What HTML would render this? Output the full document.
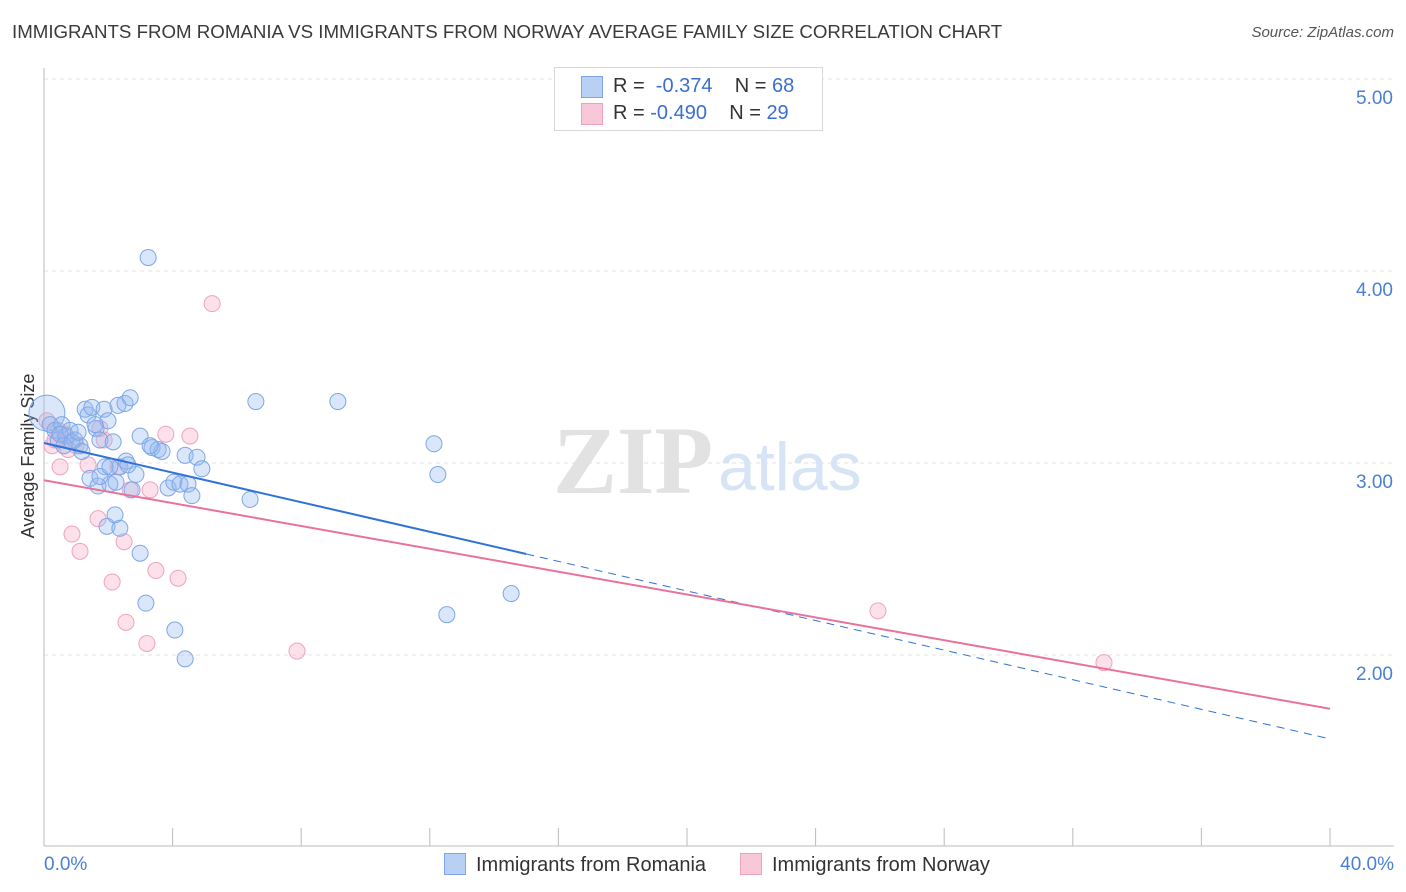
<!DOCTYPE html>
<html><head><meta charset="utf-8"><style>
body{margin:0;background:#fff;font-family:"Liberation Sans",sans-serif;}
#wrap{position:relative;width:1406px;height:892px;overflow:hidden;}
.t{position:absolute;white-space:nowrap;}
</style></head><body>
<div id="wrap">
<div class="t" style="left:12px;top:21px;font-size:18.7px;color:#3a3a3a;">IMMIGRANTS FROM ROMANIA VS IMMIGRANTS FROM NORWAY AVERAGE FAMILY SIZE CORRELATION CHART</div>
<div class="t" style="right:12px;top:24px;font-size:15px;color:#555;font-style:italic;">Source: ZipAtlas.com</div>
<svg id="svg" width="1406" height="892" style="position:absolute;left:0;top:0"></svg>
</div>
<script>
const xTicks=[0,4,8,12,16,20,24,28,32,36,40];
const yTicks=[2,3,4,5];
const blueX=[0.09,0.19,0.34,0.44,0.56,0.68,0.81,0.96,1.12,1.28,1.37,1.49,1.62,1.74,1.87,1.99,2.15,2.30,2.52,2.68,2.99,3.24,3.36,3.55,3.67,3.86,4.04,4.23,4.39,4.48,4.60,4.76,4.91,6.41,6.59,9.14,12.13,12.25,12.53,14.53,1.90,2.05,2.24,2.36,2.55,2.74,2.86,1.43,1.68,1.74,1.96,2.21,2.36,2.99,3.17,4.07,4.39,0.50,0.62,0.87,1.06,1.18,1.59,2.05,2.61,3.30];
const blueY=[3.26,3.20,3.17,3.12,3.20,3.14,3.17,3.12,3.09,3.28,3.25,3.29,3.18,3.12,3.28,3.22,3.11,3.30,3.31,3.34,3.14,4.07,3.08,3.07,3.06,2.87,2.90,2.89,3.04,2.89,2.83,3.03,2.97,2.81,3.32,3.32,3.10,2.94,2.21,2.32,2.98,2.89,2.90,2.98,3.01,2.86,2.94,2.92,2.88,2.93,2.67,2.73,2.66,2.53,2.27,2.13,1.98,3.15,3.09,3.11,3.16,3.06,3.20,2.98,2.99,3.09];
const pinkX=[0.09,0.25,0.44,0.50,0.75,0.87,1.12,1.37,1.68,1.87,2.12,2.30,2.49,2.55,2.68,3.20,3.30,3.48,3.79,4.17,4.54,5.23,7.87,25.94,32.97,0.34,0.65,1.00,1.74];
const pinkY=[3.22,3.09,3.17,2.98,3.07,2.63,2.54,2.99,2.71,3.12,2.38,2.98,2.59,2.17,2.86,2.06,2.86,2.44,3.15,2.40,3.14,3.83,2.02,2.23,1.96,3.12,3.15,3.09,3.18];
const blueLine=[3.104,1.563];
const pinkLine=[2.91,1.72];
const blueSolidEnd=15.0;
const X=v=>44+v*32.15, Y=v=>847-(v-1)*192;
const NS="http://www.w3.org/2000/svg", svg=document.getElementById('svg');
function el(tag,attrs,parent){const e=document.createElementNS(NS,tag);for(const k in attrs)e.setAttribute(k,attrs[k]);(parent||svg).appendChild(e);return e;}
function txt(s,attrs){const e=el('text',attrs);e.textContent=s;return e;}
yTicks.forEach(v=>{const g=el('line',{x1:44,x2:1394,y1:Y(v),y2:Y(v),stroke:'#e2e2e2','stroke-dasharray':'4,4'});


const t=txt(v.toFixed(2),{x:1393,y:Y(v)+25,'text-anchor':'end','font-size':19,fill:'#4a7fd6','font-family':'Liberation Sans'});

});
el('line',{x1:44,x2:44,y1:68,y2:846,stroke:'#bbb'});
el('line',{x1:44,x2:1394,y1:846,y2:846,stroke:'#bbb'});
xTicks.forEach(v=>{const l=el('line',{x1:X(v),x2:X(v),y1:828,y2:846,stroke:'#bbb'});

});
let t0=txt('0.0%',{x:44,y:870,'font-size':19,fill:'#4a7fd6'});
let t1=txt('40.0%',{x:1394,y:870,'text-anchor':'end','font-size':19,fill:'#4a7fd6'});
let yt=txt('Average Family Size',{x:34,y:456,'font-size':18,fill:'#333',transform:'rotate(-90 34 456)','text-anchor':'middle'});

let w1=txt('ZIP',{x:553,y:493,'font-size':96,fill:'#e2e2e2','font-family':'Liberation Serif','font-weight':'bold'});

let w2=txt('atlas',{x:718,y:490,'font-size':68,fill:'#d6e4f5'});

pinkX.forEach((x,i)=>{const c=el('circle',{cx:X(x),cy:Y(pinkY[i]),r:8,fill:'rgba(246,170,195,0.35)',stroke:'#eea3bd','stroke-width':1});

});
blueX.forEach((x,i)=>{const c=el('circle',{cx:X(x),cy:Y(blueY[i]),r:i==0?18:8,fill:'rgba(150,185,240,0.35)',stroke:'#7ea6e6','stroke-width':1});

});
const by=x=>blueLine[0]+(blueLine[1]-blueLine[0])*x/40, py=x=>pinkLine[0]+(pinkLine[1]-pinkLine[0])*x/40;
let bl=el('line',{x1:X(0),y1:Y(by(0)),x2:X(blueSolidEnd),y2:Y(by(blueSolidEnd)),stroke:'#2f72d8','stroke-width':2});

let bd=el('line',{x1:X(blueSolidEnd),y1:Y(by(blueSolidEnd)),x2:X(40),y2:Y(by(40)),stroke:'#2f72d8','stroke-width':1,'stroke-dasharray':'8,6'});

let pl=el('line',{x1:X(0),y1:Y(py(0)),x2:X(40),y2:Y(py(40)),stroke:'#e8729a','stroke-width':2});

</script>
<div class="t" style="left:554px;top:67px;width:267px;height:62px;border:1px solid #d8d8d8;background:#fff;font-size:20px;color:#333;">
 <div style="position:absolute;left:26px;top:8px;width:20px;height:20px;background:#b9d0f5;border:1px solid #7ea6e6;"></div>
 <div class="t" style="left:58px;top:7px;">R = &nbsp;<span style="color:#3a6fd0">-0.374</span>&nbsp;&nbsp;&nbsp; N = <span style="color:#3a6fd0">68</span></div>
 <div style="position:absolute;left:26px;top:35px;width:20px;height:20px;background:#f8c8d8;border:1px solid #eea3bd;"></div>
 <div class="t" style="left:58px;top:34px;">R = <span style="color:#3a6fd0">-0.490</span>&nbsp;&nbsp;&nbsp; N = <span style="color:#3a6fd0">29</span></div>
</div>
<div class="t" style="left:444px;top:853px;font-size:20px;color:#333;">
 <span style="display:inline-block;width:20px;height:20px;background:#b9d0f5;border:1px solid #7ea6e6;vertical-align:-4px;margin-right:10px;"></span>Immigrants from Romania</div>
<div class="t" style="left:740px;top:853px;font-size:20px;color:#333;">
 <span style="display:inline-block;width:20px;height:20px;background:#f8c8d8;border:1px solid #eea3bd;vertical-align:-4px;margin-right:10px;"></span>Immigrants from Norway</div>
</body></html>
